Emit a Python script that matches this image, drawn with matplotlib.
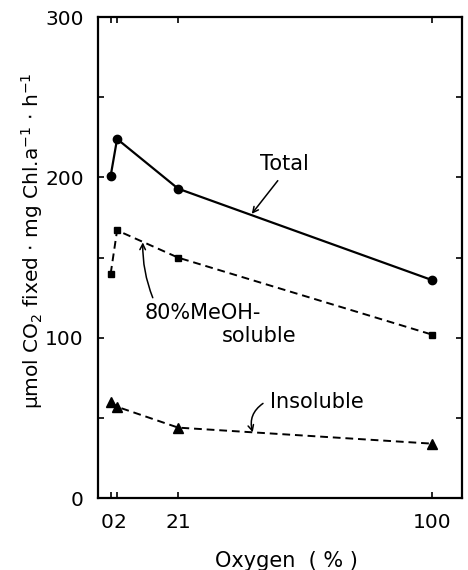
import matplotlib
matplotlib.use('Agg')
import matplotlib.pyplot as plt
import matplotlib.transforms as mtransforms
from matplotlib.ticker import MultipleLocator

# oxygen concentration (%)
oxygen = [0, 2, 21, 100]
# umol CO2 fixed per mg Chl a per h
total = [201, 224, 193, 136]
meoh_soluble = [140, 167, 150, 102]
insoluble = [60, 57, 44, 34]

xtick_labels = ['0', '2', '21', '100']

plt.rcParams['font.family'] = ['DejaVu Sans']

fig = plt.figure(figsize=(4.68, 5.70), dpi=100)
ax = fig.add_axes([0.209, 0.126, 0.778, 0.844])

dash = (0, (4, 2.5))
ax.plot(oxygen, total, '-', color='black', lw=1.6, marker='o', ms=6)
ax.plot(oxygen, meoh_soluble, color='black', lw=1.4, ls=dash, marker='s', ms=5)
ax.plot(oxygen, insoluble, color='black', lw=1.4, ls=dash, marker='^', ms=7)

ax.set_xlim(-4, 109.3)
ax.set_ylim(0, 300)
ax.set_xticks(oxygen)
ax.set_xticklabels(xtick_labels)
ax.yaxis.set_major_locator(MultipleLocator(100))
ax.yaxis.set_minor_locator(MultipleLocator(50))
ax.tick_params(which='both', direction='in', top=True, right=True,
               labelsize=14.5, width=1.2, length=4, pad=10)
ax.tick_params(axis='x', pad=11)
for s in ax.spines.values():
    s.set_linewidth(1.6)

# "0" and "2" sit nearly on top of each other, nudge them apart
labs = ax.get_xticklabels()
labs[0].set_transform(labs[0].get_transform() +
                      mtransforms.ScaledTranslation(-4 / 100, 0, fig.dpi_scale_trans))
labs[1].set_transform(labs[1].get_transform() +
                      mtransforms.ScaledTranslation(3 / 100, 0, fig.dpi_scale_trans))

ax.set_xlabel('Oxygen  ( % )', fontsize=15)
ax.xaxis.set_label_coords(0.519, -0.11)
ax.set_ylabel(r'$\mathregular{\mu}$mol CO$_2$ fixed $\cdot$ mg Chl.a$^{-1}$ $\cdot$ h$^{-1}$',
              fontsize=14.5)
ax.yaxis.set_label_coords(-0.145, 0.535)

arrow = dict(arrowstyle='->', color='black', lw=1.1, shrinkA=0, shrinkB=0)

ax.text(54.2, 208.5, 'Total', fontsize=15, ha='center', va='center')
ax.annotate('', xy=(43.9, 177.3), xytext=(52.0, 198.0), arrowprops=arrow)

ax.text(10.6, 115.7, '80%MeOH-', fontsize=15, ha='left', va='center')
ax.text(34.6, 101.4, 'soluble', fontsize=15, ha='left', va='center')
ax.annotate('', xy=(10.0, 159.5), xytext=(13.1, 125.0),
            arrowprops=dict(arrow, connectionstyle='arc3,rad=-0.1'))

ax.text(49.5, 59.7, 'Insoluble', fontsize=15, ha='left', va='center')
ax.annotate('', xy=(44.2, 41.1), xytext=(47.4, 59.1),
            arrowprops=dict(arrow, connectionstyle='arc3,rad=0.35'))

fig.savefig('out.png', dpi=100)
